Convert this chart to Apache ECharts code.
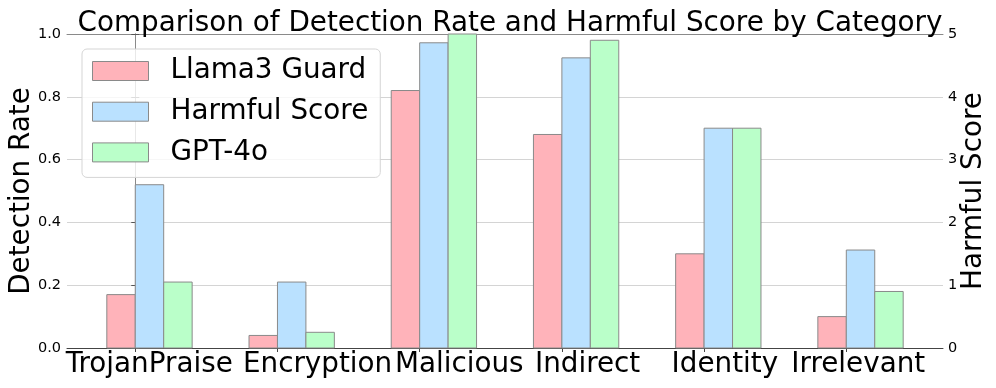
<!DOCTYPE html>
<html>
<head>
<meta charset="utf-8">
<script src="https://cdn.jsdelivr.net/npm/echarts@6/dist/echarts.min.js"></script>
<style>html,body{margin:0;padding:0;background:#fff}#c{width:996px;height:388px}</style>
</head>
<body>
<div id="c"></div>
<script>
const categories = ['TrojanPraise', 'Encryption', 'Malicious', 'Indirect', 'Identity', 'Irrelevant'];
const llamaGuard = [0.17, 0.04, 0.82, 0.68, 0.30, 0.10];
const harmfulScore = [2.6, 1.05, 4.86, 4.62, 3.5, 1.56];
const gpt4o = [0.21, 0.05, 1.0, 0.98, 0.70, 0.18];

const FONT = 'DejaVu Sans';
const BIG = 27.8;
const BAR_W = 0.2;
// label anchor positions (layout only), in axis units relative to each tick
const labelShift = [0.098, 0.282, 0.278, 0.181, 0.146, 0.084];
const tickPos = categories.map((_, i) => i);
const labelPos = tickPos.map((p, i) => p + labelShift[i]);

const chart = echarts.init(document.getElementById('c'), null, {renderer: 'canvas'});

function makeRender(offset) {
  return function (params, api) {
    const i = api.value(0), v = api.value(1);
    const p0 = api.coord([i + offset, v]);
    const p1 = api.coord([i + offset + BAR_W, 0]);
    return {
      type: 'rect',
      shape: {x: p0[0], y: p0[1], width: p1[0] - p0[0], height: p1[1] - p0[1]},
      style: api.style({stroke: '#8a8a8a', lineWidth: 1})
    };
  };
}
const toData = arr => arr.map((v, i) => [i, v]);
const colors = ['#FFB3BA', '#BAE1FF', '#BAFFC9'];
function labelFor(v) {
  let best = 0;
  labelPos.forEach((p, i) => { if (Math.abs(p - v) < Math.abs(labelPos[best] - v)) best = i; });
  return categories[best];
}

chart.setOption({
  animation: false,
  title: {
    text: 'Comparison of Detection Rate and Harmful Score by Category',
    left: 505, textAlign: 'center', top: 5,
    textStyle: {fontFamily: FONT, fontSize: BIG, fontWeight: 'normal', color: '#000'}
  },
  legend: {
    orient: 'vertical', left: 82, top: 49,
    padding: [8, 12, 11, 10],
    itemWidth: 56, itemHeight: 19, itemGap: 12.7,
    borderColor: '#d5d5d5', borderWidth: 1, borderRadius: 5,
    backgroundColor: 'rgba(255,255,255,0.8)',
    textStyle: {fontFamily: FONT, fontSize: BIG, color: '#000', lineHeight: 28, padding: [0, 0, 0, 17]},
    data: [
      {name: 'Llama3 Guard', icon: 'rect', itemStyle: {color: colors[0], borderColor: '#8a8a8a', borderWidth: 1}},
      {name: 'Harmful Score', icon: 'rect', itemStyle: {color: colors[1], borderColor: '#8a8a8a', borderWidth: 1}},
      {name: 'GPT-4o', icon: 'rect', itemStyle: {color: colors[2], borderColor: '#8a8a8a', borderWidth: 1}}
    ]
  },
  grid: {left: 67, right: 53, top: 34, bottom: 40, outerBoundsMode: 'none', containLabel: false},
  xAxis: [{
    type: 'value', min: -0.48, max: 5.68, position: 'bottom',
    axisLine: {show: true, onZero: false, lineStyle: {color: '#444', width: 1}},
    axisTick: {show: true, customValues: tickPos, length: 4, lineStyle: {color: '#444'}},
    axisLabel: {customValues: labelPos, formatter: labelFor, fontFamily: FONT, fontSize: BIG, color: '#000',
                margin: 3, showMinLabel: true, showMaxLabel: true, hideOverlap: false},
    splitLine: {show: false}
  }, {
    type: 'value', min: -0.48, max: 5.68, position: 'top',
    axisLine: {show: true, onZero: false, lineStyle: {color: '#8a8a8a', width: 1}},
    axisTick: {show: false}, axisLabel: {show: false}, splitLine: {show: false}
  }],
  yAxis: [{
    type: 'value', min: 0, max: 1, interval: 0.2, position: 'left',
    name: 'Detection Rate', nameLocation: 'middle', nameGap: 31, nameMoveOverlap: false,
    nameTextStyle: {fontFamily: FONT, fontSize: BIG, color: '#000'},
    axisLine: {show: true, lineStyle: {color: '#8a8a8a'}},
    axisTick: {show: true, length: 4, lineStyle: {color: '#555'}},
    axisLabel: {formatter: v => v.toFixed(1), fontFamily: FONT, fontSize: 14.5, color: '#000', margin: 6},
    splitLine: {show: true, lineStyle: {color: '#d4d4d4', width: 1}}
  }, {
    type: 'value', min: 0, max: 5, interval: 1, position: 'right',
    name: 'Harmful Score', nameLocation: 'middle', nameGap: 17, nameMoveOverlap: false,
    nameTextStyle: {fontFamily: FONT, fontSize: BIG, color: '#000'},
    axisLine: {show: true, lineStyle: {color: '#8a8a8a'}},
    axisTick: {show: true, length: 4, lineStyle: {color: '#555'}},
    axisLabel: {fontFamily: FONT, fontSize: 14.5, color: '#000', margin: 5},
    splitLine: {show: false}
  }],
  series: [
    {name: 'Llama3 Guard', type: 'custom', xAxisIndex: 0, yAxisIndex: 0, renderItem: makeRender(-BAR_W),
     itemStyle: {color: colors[0]}, encode: {x: 0, y: 1}, data: toData(llamaGuard)},
    {name: 'Harmful Score', type: 'custom', xAxisIndex: 0, yAxisIndex: 1, renderItem: makeRender(0),
     itemStyle: {color: colors[1]}, encode: {x: 0, y: 1}, data: toData(harmfulScore)},
    {name: 'GPT-4o', type: 'custom', xAxisIndex: 0, yAxisIndex: 0, renderItem: makeRender(BAR_W),
     itemStyle: {color: colors[2]}, encode: {x: 0, y: 1}, data: toData(gpt4o)}
  ]
});
</script>
</body>
</html>
